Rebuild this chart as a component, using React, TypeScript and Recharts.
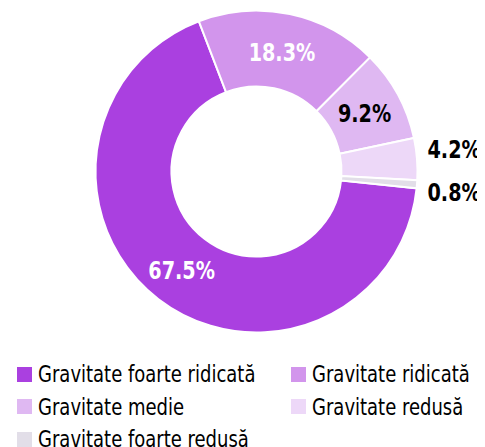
import { PieChart, Pie, Cell, Legend } from "recharts";

const categories = [
  "Gravitate foarte ridicată",
  "Gravitate ridicată",
  "Gravitate medie",
  "Gravitate redusă",
  "Gravitate foarte redusă",
];
const shares = [67.5, 18.3, 9.2, 4.2, 0.8];
const colors = ["#AA40E0", "#D295EC", "#DFB8F2", "#EDD8F8", "#E2DEE8"];
const labelColors = ["#fff", "#fff", "#000", "#000", "#000"];

const FONT = '"DejaVu Sans Condensed", "DejaVu Sans", sans-serif';
// the original font is narrower than anything installed, squeeze a bit
const LABEL_SQUEEZE = 0.89;
const LEGEND_SQUEEZE = 0.87;

const data = categories.map((name, i) => ({ name, value: shares[i] }));

const RADIAN = Math.PI / 180;

const renderLabel = (props: any) => {
  const { cx, cy, midAngle, innerRadius, outerRadius, index, value } = props;
  const text = `${value.toFixed(1)}%`;
  let x: number, y: number, anchor: "middle" | "start", fill: string;
  if (value >= 5) {
    const r = (innerRadius + outerRadius) / 2;
    x = cx + r * Math.cos(-midAngle * RADIAN);
    y = cy + r * Math.sin(-midAngle * RADIAN);
    anchor = "middle";
    fill = labelColors[index];
  } else {
    // small slices: labels outside, pushed apart a bit
    const y0 = cy + outerRadius * Math.sin(-midAngle * RADIAN);
    x = cx + outerRadius + 10;
    y = y0 + (index === 3 ? -10 : 7);
    anchor = "start";
    fill = "#000";
  }
  return (
    <text
      transform={`translate(${x},${y + 1}) scale(${LABEL_SQUEEZE},1)`}
      x={0}
      y={0}
      fill={fill}
      textAnchor={anchor}
      dominantBaseline="central"
      fontFamily={FONT}
      fontWeight="bold"
      fontSize={24}
    >
      {text}
    </text>
  );
};

const LegendGrid = () => (
  <div
    style={{
      display: "grid",
      gridTemplateColumns: "274px 200px",
      paddingLeft: 9,
      fontFamily: FONT,
      fontSize: 23,
      color: "#000",
    }}
  >
    {categories.map((c, i) => (
      <div key={c} style={{ display: "flex", alignItems: "center", height: 32.5 }}>
        <span
          style={{
            width: 15,
            height: 15,
            background: colors[i],
            marginRight: 6,
            flexShrink: 0,
          }}
        />
        <span
          style={{
            whiteSpace: "nowrap",
            display: "inline-block",
            transform: `scaleX(${LEGEND_SQUEEZE})`,
            transformOrigin: "left center",
          }}
        >
          {c}
        </span>
      </div>
    ))}
  </div>
);

export default function App() {
  return (
    <PieChart width={485} height={440} margin={{ top: 0, right: 0, bottom: 0, left: 0 }}>
      <Pie
        data={data}
        dataKey="value"
        nameKey="name"
        cx={248.5}
        cy={163.5}
        innerRadius={85}
        outerRadius={161}
        startAngle={-6}
        endAngle={-366}
        stroke="#fff"
        strokeWidth={2}
        label={renderLabel}
        labelLine={false}
        isAnimationActive={false}
      >
        {data.map((d, i) => (
          <Cell key={d.name} fill={colors[i]} />
        ))}
      </Pie>
      <Legend content={<LegendGrid />} wrapperStyle={{ top: 350, left: 0, width: 485 }} />
    </PieChart>
  );
}
